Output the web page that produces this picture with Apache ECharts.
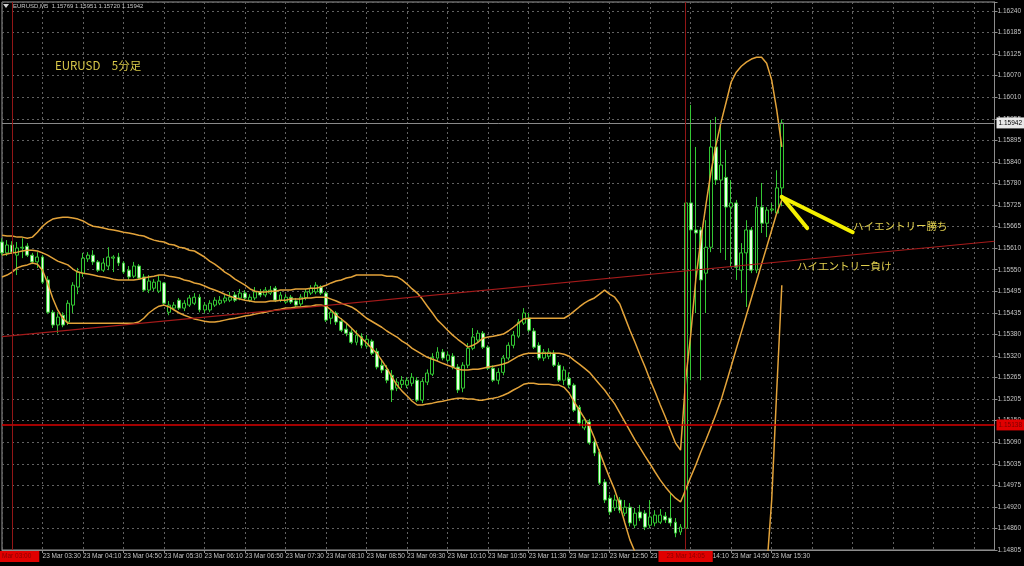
<!DOCTYPE html>
<html>
<head>
<meta charset="utf-8">
<script src="https://cdn.jsdelivr.net/npm/echarts@6/dist/echarts.min.js"></script>
<style>
html,body{margin:0;padding:0;background:#000;}
#chart{width:1024px;height:566px;}
</style>
</head>
<body>
<div id="chart"></div>
<script>
// ---------- DATA ----------
// bar times: 5-minute bars starting 23 Mar 02:50
const startMinute = 170;       // 02:50
const slotCount = 197;         // visible time slots (incl. empty future area)
const categories = [];
for (let k = 0; k < slotCount; k++) {
  const m = startMinute + 5 * k;
  const hh = String(Math.floor(m / 60) % 24).padStart(2, '0');
  const mm = String(m % 60).padStart(2, '0');
  categories.push('23 Mar ' + hh + ':' + mm);
}

const xTickLabels = ['23 Mar 03:30','23 Mar 04:10','23 Mar 04:50','23 Mar 05:30','23 Mar 06:10','23 Mar 06:50',
  '23 Mar 07:30','23 Mar 08:10','23 Mar 08:50','23 Mar 09:30','23 Mar 10:10','23 Mar 10:50','23 Mar 11:30',
  '23 Mar 12:10','23 Mar 12:50','23 Mar 13:30','23 Mar 14:10','23 Mar 14:50','23 Mar 15:30'];

const yTickLabels = ['1.14805','1.14860','1.14920','1.14975','1.15035','1.15090','1.15150','1.15205','1.15265',
  '1.15320','1.15380','1.15435','1.15495','1.15550','1.15610','1.15665','1.15725','1.15780','1.15840','1.15895',
  '1.15955','1.16010','1.16070','1.16125','1.16185','1.16240'];
const priceMin = 1.14805, priceStep = 0.000574, labelSteps = 25.417;

const open = [
1.15625,1.15596,1.15617,1.15590,1.15609,1.15614,1.15590,1.15572,1.15585,1.15524,
1.15438,1.15404,1.15430,1.15412,1.15457,1.15505,1.15542,1.15580,1.15590,1.15572,
1.15550,1.15561,1.15582,1.15585,1.15569,1.15550,1.15534,1.15561,1.15532,1.15497,
1.15502,1.15494,1.15516,1.15438,1.15449,1.15470,1.15449,1.15457,1.15462,1.15478,
1.15444,1.15444,1.15457,1.15462,1.15468,1.15470,1.15484,1.15476,1.15489,1.15470,
1.15476,1.15492,1.15484,1.15489,1.15502,1.15470,1.15465,1.15478,1.15468,1.15460,
1.15476,1.15489,1.15492,1.15505,1.15489,1.15422,1.15436,1.15414,1.15393,1.15385,
1.15358,1.15374,1.15348,1.15361,1.15334,1.15297,1.15286,1.15270,1.15236,1.15246,
1.15244,1.15249,1.15257,1.15204,1.15252,1.15273,1.15316,1.15332,1.15310,1.15321,
1.15292,1.15236,1.15297,1.15342,1.15364,1.15382,1.15345,1.15289,1.15257,1.15278,
1.15316,1.15350,1.15374,1.15409,1.15422,1.15388,1.15350,1.15316,1.15321,1.15329,
1.15297,1.15257,1.15262,1.15244,1.15185,1.15130,1.15146,1.15093,1.15066,1.14986,
1.14943,1.14917,1.14938,1.14903,1.14919,1.14871,1.14906,1.14903,1.14871,1.14877,
1.14879,1.14895,1.14890,1.14879,1.14853,1.14863,1.15729,1.15657,1.15657,1.15542,
1.15611,1.15878,1.15790,1.15797,1.15718,1.15729,1.15550,1.15596,1.15657,1.15550,
1.15718,1.15675,1.15710,1.15702,1.15769];
const close = [
1.15596,1.15617,1.15598,1.15609,1.15611,1.15590,1.15572,1.15585,1.15518,1.15438,
1.15404,1.15425,1.15404,1.15462,1.15510,1.15545,1.15582,1.15590,1.15572,1.15550,
1.15569,1.15585,1.15585,1.15569,1.15545,1.15532,1.15561,1.15529,1.15497,1.15521,
1.15518,1.15521,1.15462,1.15457,1.15457,1.15449,1.15462,1.15476,1.15478,1.15444,
1.15457,1.15462,1.15470,1.15470,1.15476,1.15478,1.15470,1.15489,1.15476,1.15478,
1.15492,1.15484,1.15497,1.15497,1.15470,1.15484,1.15478,1.15465,1.15457,1.15478,
1.15492,1.15502,1.15510,1.15489,1.15417,1.15438,1.15412,1.15390,1.15382,1.15358,
1.15377,1.15350,1.15366,1.15329,1.15292,1.15284,1.15257,1.15231,1.15252,1.15257,
1.15257,1.15265,1.15204,1.15254,1.15276,1.15318,1.15332,1.15316,1.15324,1.15292,
1.15231,1.15297,1.15342,1.15372,1.15382,1.15345,1.15289,1.15257,1.15278,1.15316,
1.15350,1.15377,1.15412,1.15436,1.15390,1.15345,1.15316,1.15332,1.15332,1.15297,
1.15257,1.15284,1.15244,1.15177,1.15143,1.15151,1.15090,1.15063,1.14983,1.14938,
1.14906,1.14938,1.14911,1.14919,1.14877,1.14903,1.14890,1.14866,1.14893,1.14898,
1.14898,1.14885,1.14877,1.14850,1.14866,1.15729,1.15657,1.15649,1.15524,1.15611,
1.15878,1.15790,1.15830,1.15718,1.15729,1.15558,1.15596,1.15657,1.15550,1.15718,
1.15675,1.15710,1.15713,1.15769,1.15942];
const high = [
1.15635,1.15630,1.15627,1.15625,1.15635,1.15622,1.15596,1.15598,1.15590,1.15534,
1.15444,1.15438,1.15438,1.15470,1.15518,1.15556,1.15596,1.15598,1.15603,1.15577,
1.15582,1.15611,1.15590,1.15596,1.15574,1.15561,1.15572,1.15566,1.15540,1.15537,
1.15526,1.15537,1.15518,1.15468,1.15465,1.15476,1.15470,1.15484,1.15489,1.15486,
1.15465,1.15470,1.15478,1.15481,1.15484,1.15492,1.15492,1.15500,1.15497,1.15486,
1.15505,1.15500,1.15505,1.15508,1.15508,1.15492,1.15486,1.15484,1.15476,1.15486,
1.15500,1.15510,1.15518,1.15510,1.15494,1.15446,1.15441,1.15422,1.15409,1.15393,
1.15390,1.15382,1.15377,1.15366,1.15342,1.15310,1.15297,1.15284,1.15262,1.15268,
1.15265,1.15276,1.15265,1.15262,1.15286,1.15329,1.15345,1.15340,1.15334,1.15329,
1.15300,1.15305,1.15356,1.15396,1.15390,1.15388,1.15350,1.15297,1.15289,1.15324,
1.15358,1.15388,1.15420,1.15449,1.15436,1.15396,1.15358,1.15340,1.15342,1.15337,
1.15305,1.15294,1.15278,1.15249,1.15191,1.15159,1.15154,1.15100,1.15074,1.14994,
1.14952,1.14952,1.14946,1.14938,1.14930,1.14917,1.14925,1.14911,1.14938,1.14911,
1.14914,1.14906,1.14957,1.14890,1.14874,1.15737,1.15990,1.15878,1.15665,1.15683,
1.15950,1.15958,1.15942,1.15870,1.15790,1.15737,1.15622,1.15683,1.15665,1.15745,
1.15782,1.15718,1.15729,1.15816,1.15951];
const low = [
1.15590,1.15588,1.15593,1.15537,1.15582,1.15585,1.15566,1.15556,1.15513,1.15433,
1.15396,1.15382,1.15398,1.15404,1.15436,1.15486,1.15532,1.15572,1.15564,1.15545,
1.15545,1.15550,1.15545,1.15561,1.15540,1.15524,1.15529,1.15524,1.15492,1.15489,
1.15494,1.15489,1.15457,1.15430,1.15444,1.15444,1.15441,1.15452,1.15457,1.15438,
1.15436,1.15438,1.15452,1.15457,1.15462,1.15465,1.15465,1.15470,1.15470,1.15465,
1.15470,1.15478,1.15478,1.15484,1.15465,1.15465,1.15460,1.15460,1.15452,1.15454,
1.15470,1.15484,1.15486,1.15484,1.15412,1.15406,1.15404,1.15385,1.15374,1.15353,
1.15350,1.15342,1.15342,1.15324,1.15286,1.15276,1.15249,1.15199,1.15228,1.15236,
1.15236,1.15241,1.15199,1.15196,1.15244,1.15268,1.15308,1.15310,1.15305,1.15286,
1.15223,1.15225,1.15289,1.15337,1.15356,1.15340,1.15284,1.15252,1.15246,1.15270,
1.15310,1.15342,1.15369,1.15404,1.15385,1.15340,1.15310,1.15308,1.15313,1.15292,
1.15252,1.15244,1.15236,1.15172,1.15135,1.15124,1.15085,1.15055,1.14978,1.14930,
1.14898,1.14909,1.14903,1.14895,1.14868,1.14863,1.14882,1.14858,1.14863,1.14868,
1.14874,1.14877,1.14868,1.14839,1.14845,1.14853,1.15257,1.15436,1.15257,1.15436,
1.15598,1.15777,1.15596,1.15577,1.15558,1.15524,1.15489,1.15452,1.15542,1.15542,
1.15649,1.15638,1.15705,1.15697,1.15720];

// Bollinger bands
const bbUpper = [
1.15643,1.15641,1.15641,1.15638,1.15638,1.15635,1.15638,1.15651,1.15667,1.15678,
1.15686,1.15689,1.15691,1.15691,1.15689,1.15686,1.15681,1.15673,1.15667,1.15665,
1.15662,1.15659,1.15657,1.15654,1.15651,1.15649,1.15646,1.15643,1.15641,1.15635,
1.15630,1.15627,1.15625,1.15619,1.15617,1.15611,1.15609,1.15603,1.15601,1.15593,
1.15585,1.15574,1.15566,1.15556,1.15545,1.15537,1.15526,1.15518,1.15510,1.15500,
1.15494,1.15492,1.15492,1.15494,1.15494,1.15497,1.15497,1.15497,1.15500,1.15500,
1.15500,1.15502,1.15502,1.15505,1.15510,1.15516,1.15521,1.15524,1.15529,1.15532,
1.15537,1.15537,1.15537,1.15537,1.15537,1.15537,1.15534,1.15534,1.15532,1.15524,
1.15513,1.15500,1.15489,1.15473,1.15454,1.15436,1.15417,1.15404,1.15390,1.15377,
1.15366,1.15356,1.15345,1.15350,1.15358,1.15369,1.15372,1.15374,1.15377,1.15380,
1.15388,1.15398,1.15409,1.15420,1.15422,1.15422,1.15422,1.15422,1.15422,1.15422,
1.15422,1.15422,1.15430,1.15441,1.15452,1.15462,1.15470,1.15476,1.15486,1.15497,
1.15486,1.15478,1.15460,1.15425,1.15390,1.15358,1.15324,1.15292,1.15257,1.15225,
1.15191,1.15159,1.15124,1.15090,1.15071,1.15257,1.15377,1.15524,1.15630,1.15723,
1.15811,1.15883,1.15944,1.15997,1.16051,1.16077,1.16093,1.16104,1.16112,1.16117,
1.16117,1.16101,1.16056,1.15976,1.15878];
const bbMiddle = [
1.15590,1.15593,1.15596,1.15598,1.15601,1.15603,1.15603,1.15601,1.15596,1.15590,
1.15582,1.15574,1.15569,1.15564,1.15553,1.15545,1.15542,1.15540,1.15537,1.15534,
1.15532,1.15529,1.15526,1.15524,1.15524,1.15524,1.15524,1.15526,1.15529,1.15532,
1.15534,1.15537,1.15537,1.15534,1.15532,1.15529,1.15524,1.15521,1.15516,1.15513,
1.15508,1.15502,1.15497,1.15492,1.15486,1.15481,1.15476,1.15473,1.15470,1.15468,
1.15465,1.15465,1.15465,1.15468,1.15468,1.15470,1.15470,1.15473,1.15473,1.15473,
1.15476,1.15476,1.15478,1.15478,1.15478,1.15473,1.15468,1.15462,1.15457,1.15452,
1.15444,1.15433,1.15422,1.15414,1.15406,1.15398,1.15388,1.15380,1.15372,1.15361,
1.15353,1.15342,1.15334,1.15326,1.15318,1.15313,1.15308,1.15302,1.15297,1.15292,
1.15286,1.15284,1.15284,1.15286,1.15286,1.15289,1.15292,1.15294,1.15297,1.15300,
1.15305,1.15313,1.15321,1.15326,1.15329,1.15329,1.15329,1.15329,1.15329,1.15329,
1.15329,1.15326,1.15321,1.15310,1.15300,1.15289,1.15278,1.15262,1.15246,1.15231,
1.15212,1.15194,1.15170,1.15146,1.15122,1.15098,1.15077,1.15055,1.15034,1.15012,
1.14991,1.14973,1.14957,1.14943,1.14933,1.14965,1.14999,1.15031,1.15066,1.15098,
1.15132,1.15167,1.15204,1.15249,1.15294,1.15340,1.15385,1.15430,1.15476,1.15521,
1.15566,1.15611,1.15657,1.15702,1.15737];
const bbLower = [
1.15532,1.15537,1.15545,1.15556,1.15561,1.15564,1.15569,1.15566,1.15550,1.15516,
1.15476,1.15444,1.15422,1.15409,1.15409,1.15409,1.15409,1.15409,1.15409,1.15409,
1.15409,1.15409,1.15409,1.15409,1.15409,1.15409,1.15409,1.15412,1.15422,1.15436,
1.15446,1.15454,1.15457,1.15452,1.15444,1.15436,1.15430,1.15425,1.15420,1.15417,
1.15414,1.15412,1.15412,1.15414,1.15417,1.15420,1.15422,1.15425,1.15428,1.15430,
1.15433,1.15436,1.15438,1.15441,1.15444,1.15446,1.15449,1.15449,1.15452,1.15452,
1.15454,1.15454,1.15457,1.15457,1.15454,1.15444,1.15430,1.15420,1.15409,1.15396,
1.15382,1.15369,1.15356,1.15342,1.15329,1.15310,1.15289,1.15265,1.15244,1.15228,
1.15215,1.15201,1.15191,1.15191,1.15194,1.15196,1.15199,1.15201,1.15204,1.15207,
1.15209,1.15209,1.15207,1.15207,1.15204,1.15204,1.15207,1.15209,1.15212,1.15217,
1.15223,1.15231,1.15238,1.15246,1.15249,1.15249,1.15246,1.15246,1.15246,1.15244,
1.15244,1.15238,1.15223,1.15199,1.15178,1.15156,1.15135,1.15103,1.15066,1.15031,
1.14997,1.14965,1.14925,1.14877,1.14832,1.14800,1.14784,1.14773,1.14765,1.14762,
1.14762,1.14762,1.14765,1.14773,1.14778,1.14672,1.14619,1.14539,1.14485,1.14459,
1.14448,1.14451,1.14459,1.14491,1.14533,1.14565,1.14592,1.14619,1.14640,1.14659,
1.14685,1.14752,1.14938,1.15231,1.15510];

// drawn objects (time, price)
const trendLine = [['23 Mar 02:50', 1.15373], ['23 Mar 19:10', 1.15627]];
const horizLevel = 1.15138;
const bidPrice = 1.15942;
const vLines = ['23 Mar 03:00', '23 Mar 14:05'];
const arrowWin = [['23 Mar 15:40', 1.15745], ['23 Mar 16:50', 1.15651]];
const arrowLose = [['23 Mar 15:40', 1.15745], ['23 Mar 16:05', 1.15662]];

const headerText = 'EURUSD,M5  1.15769 1.15951 1.15720 1.15942';
const titleText = 'EURUSD\u30005分足';
const winText = 'ハイエントリー勝ち';
const loseText = 'ハイエントリー負け';

// ---------- BUILD ----------
const ohlc = open.map((o, i) => [o, close[i], low[i], high[i]]);
const idx = name => categories.indexOf(name);
const firstIdx = 0, lastIdx = categories.length - 1;
const smallFont = "'Liberation Sans Narrow','Liberation Sans',Arial,sans-serif";
const gridDot = { color: '#626262', type: [2, 3], width: 1 };
const axisGray = '#8c8c8c';
const bandColor = '#e3a33a';

function hLine(value, color, width, labelBg, labelColor) {
  return [
    {
      coord: [firstIdx, value],
      lineStyle: { color: color, width: width, type: 'solid' },
      label: {
        show: true, position: 'end', distance: 2, formatter: () => value.toFixed(5),
        backgroundColor: labelBg, color: labelColor, fontSize: 6.5, fontFamily: smallFont, padding: [2, 2]
      }
    },
    { coord: [lastIdx, value] }
  ];
}

const chart = echarts.init(document.getElementById('chart'), null, { renderer: 'canvas' });
chart.setOption({
  backgroundColor: '#000000',
  animation: false,
  grid: { left: 2, right: 26, top: 2, bottom: 16, show: true, borderColor: '#9a9a9a', borderWidth: 1 },
  xAxis: {
    type: 'category',
    data: categories,
    boundaryGap: false,
    axisLine: { show: true, lineStyle: { color: axisGray } },
    axisTick: { show: true, length: 3, interval: (i, v) => xTickLabels.includes(v), lineStyle: { color: axisGray } },
    axisLabel: {
      interval: (i, v) => xTickLabels.includes(v),
      align: 'left', color: '#c4c4c4', fontSize: 6.5, fontFamily: smallFont, margin: 3
    },
    splitLine: { show: true, interval: (i) => i % 8 === 0, lineStyle: gridDot }
  },
  yAxis: [
    {
      type: 'value', show: false, min: priceMin, max: priceMin + labelSteps * priceStep,
      splitLine: { show: false }
    },
    {
      type: 'value', position: 'right', min: 0, max: labelSteps, interval: 1,
      axisLine: { show: true, lineStyle: { color: axisGray } },
      axisTick: { show: true, length: 3, lineStyle: { color: axisGray } },
      axisLabel: {
        color: '#c4c4c4', fontSize: 6.5, fontFamily: smallFont, margin: 3,
        formatter: v => {
          const r = Math.round(v);
          return Math.abs(v - r) < 1e-6 && yTickLabels[r] ? yTickLabels[r] : '';
        }
      },
      splitLine: { show: true, lineStyle: gridDot }
    }
  ],
  series: [
    {
      type: 'candlestick',
      data: ohlc,
      barWidth: 3.4,
      yAxisIndex: 0,
      z: 2,
      itemStyle: {
        color: '#000000', color0: '#e8ffe4',
        borderColor: '#34c734', borderColor0: '#34c734', borderWidth: 1
      },
      markLine: {
        silent: true, symbol: ['none', 'none'], animation: false,
        data: [
          [
            { coord: [idx(trendLine[0][0]), trendLine[0][1]], lineStyle: { color: '#a51a1a', width: 1.2, type: 'solid' }, label: { show: false } },
            { coord: [idx(trendLine[1][0]), trendLine[1][1]] }
          ],
          hLine(horizLevel, '#d80000', 1.6, '#e00000', '#7a0000'),
          hLine(bidPrice, '#8a8a8a', 1, '#e8e8e8', '#000000')
        ].concat(vLines.map(t => ({
          xAxis: idx(t),
          lineStyle: { color: '#921616', width: 1, type: 'solid' },
          label: {
            show: true, position: 'start', distance: 1, formatter: () => t,
            backgroundColor: '#e00000', color: '#8a0000', fontSize: 6.5, fontFamily: smallFont, padding: [2, 8]
          }
        })))
      }
    },
    {
      type: 'line', name: 'upper', data: bbUpper, yAxisIndex: 0, symbol: 'none', z: 3,
      lineStyle: { color: bandColor, width: 1.5 }
    },
    {
      type: 'line', name: 'lower', data: bbLower, yAxisIndex: 0, symbol: 'none', z: 3,
      lineStyle: { color: bandColor, width: 1.5 }
    },
    {
      type: 'line', name: 'middle', data: bbMiddle, yAxisIndex: 0, symbol: 'none', z: 4,
      lineStyle: { color: bandColor, width: 1.5 },
      markLine: {
        silent: true, symbol: ['none', 'none'], animation: false,
        lineStyle: { color: '#f4f000', width: 4, type: 'solid', cap: 'round' },
        label: { show: false },
        data: [
          [{ coord: [idx(arrowWin[0][0]), arrowWin[0][1]] }, { coord: [idx(arrowWin[1][0]), arrowWin[1][1]] }],
          [{ coord: [idx(arrowLose[0][0]), arrowLose[0][1]] }, { coord: [idx(arrowLose[1][0]), arrowLose[1][1]] }]
        ]
      }
    }
  ],
  graphic: [
    { type: 'polygon', shape: { points: [[3, 4], [9, 4], [6, 8]] }, style: { fill: '#d0d0d0' }, z: 10 },
    { type: 'text', left: 13, top: 3, z: 10,
      style: { text: headerText, fill: '#c8c8c8', font: "6px 'Liberation Sans', Arial, sans-serif" } },
    { type: 'text', left: 55, top: 60, z: 10,
      style: { text: titleText, fill: '#d9c94a', font: "11.5px 'Noto Sans CJK JP', sans-serif" } },
    { type: 'text', left: 853, top: 221, z: 10,
      style: { text: winText, fill: '#e2d04e', font: "10.5px 'Noto Sans CJK JP', sans-serif" } },
    { type: 'text', left: 797, top: 261, z: 10,
      style: { text: loseText, fill: '#e2d04e', font: "10.5px 'Noto Sans CJK JP', sans-serif" } }
  ]
});
</script>
</body>
</html>
